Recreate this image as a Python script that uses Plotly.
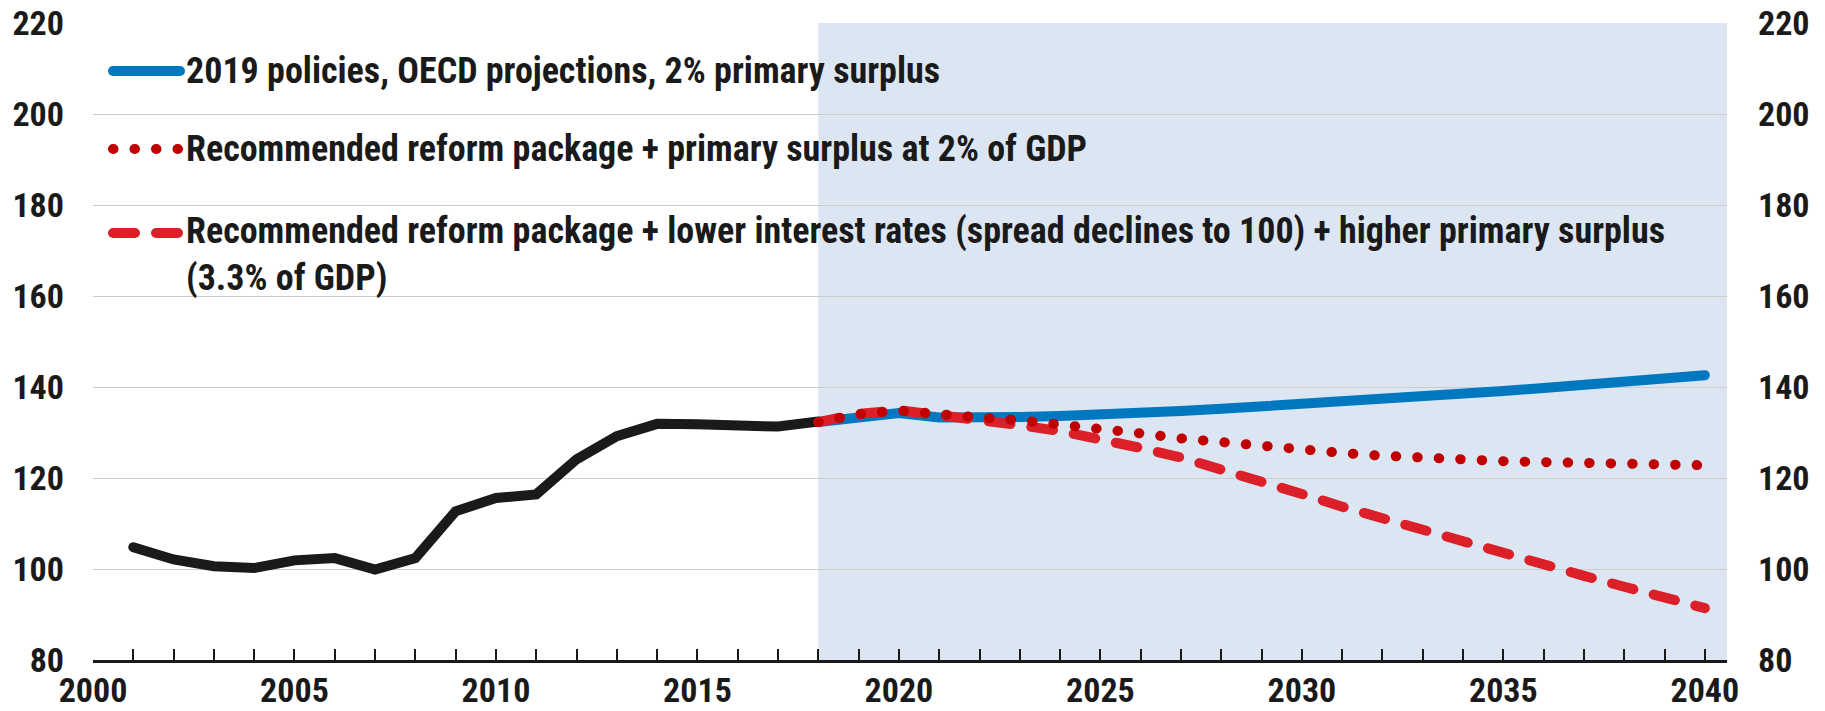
import plotly.graph_objects as go

# debt, % of GDP
hist_years = list(range(2001, 2019))
hist_debt = [104.8, 102.1, 100.6, 100.2, 101.9, 102.4, 99.9, 102.4, 112.7, 115.6,
             116.4, 124.1, 129.2, 131.9, 131.8, 131.4, 131.3, 132.4]

proj_years = list(range(2018, 2041))
baseline = [132.3, 133.2, 134.3, 133.3, 133.2, 133.4, 133.6, 133.8, 134.2, 134.7, 135.2,
            135.7, 136.3, 136.8, 137.3, 137.9, 138.5, 139.1, 139.8, 140.5, 141.2, 141.9, 142.6]
reform_2pct = [132.3, 134.0, 134.8, 133.9, 133.3, 132.7, 131.9, 130.8, 129.8, 128.7, 127.8,
               126.9, 126.1, 125.5, 124.9, 124.4, 124.0, 123.7, 123.5, 123.3, 123.1, 122.95, 122.8]
reform_low_rates = [132.3, 134.1, 134.9, 133.9, 132.8, 131.6, 130.3, 128.6, 126.6, 124.5, 122.0,
                    119.4, 116.5, 113.7, 111.1, 108.4, 105.9, 103.2, 100.8, 98.5, 96.1, 93.6, 91.4]

series_names = [
    "2019 policies, OECD projections, 2% primary surplus",
    "Recommended reform package + primary surplus at 2% of GDP",
    "Recommended reform package + lower interest rates (spread declines to 100) + higher primary surplus<br>(3.3% of GDP)",
]

x_ticks = list(range(2000, 2041))
x_ticktext = [str(y) if y % 5 == 0 else "" for y in x_ticks]
y_ticks = [80, 100, 120, 140, 160, 180, 200, 220]

colors = {"hist": "#1a1a1a", "base": "#0078c0", "dot": "#c00000", "dash": "#dc2029"}
FONT = "Liberation Sans Narrow, Arial Narrow, Roboto Condensed, sans-serif"

W, H = 1825, 711
L, R, T, B = 93, 98, 23, 51
LW = 10
dash_pat = "22px,21px"
dot_pat = "0.5px,21px"


def px(x, y):
    # pixel -> paper coords
    return (x - L) / (W - L - R), 1 - (y - T) / (H - T - B)


fig = go.Figure()
fig.add_trace(go.Scatter(x=hist_years, y=hist_debt, mode="lines", showlegend=False,
                         line=dict(color=colors["hist"], width=LW)))
fig.add_trace(go.Scatter(x=proj_years, y=baseline, mode="lines", showlegend=False,
                         line=dict(color=colors["base"], width=LW)))
fig.add_trace(go.Scatter(x=proj_years, y=reform_low_rates, mode="lines", showlegend=False,
                         line=dict(color=colors["dash"], width=LW, dash=dash_pat)))
fig.add_trace(go.Scatter(x=proj_years, y=reform_2pct, mode="lines", showlegend=False,
                         line=dict(color=colors["dot"], width=LW, dash=dot_pat)))
# invisible trace so the right axis draws
fig.add_trace(go.Scatter(x=proj_years, y=baseline, yaxis="y2", mode="lines",
                         showlegend=False, hoverinfo="skip", line=dict(width=0), opacity=0))

# projection shading
fig.add_shape(type="rect", xref="x", yref="y", x0=2018, x1=2040.6, y0=78.6, y1=221.5,
              fillcolor="#dce6f2", line_width=0, layer="below")

# hand made legend
legend_rows = [(71, colors["base"], None, 71), (149, colors["dot"], dot_pat, 149),
               (233, colors["dash"], dash_pat, 255)]
for (ly, col, dsh, ty), name in zip(legend_rows, series_names):
    x0, y0 = px(113, ly)
    x1, _ = px(180, ly)
    fig.add_shape(type="line", xref="paper", yref="paper", x0=x0, x1=x1, y0=y0, y1=y0,
                  line=dict(color=col, width=LW, dash=dsh))
    tx, tyy = px(184, ty)
    fig.add_annotation(xref="paper", yref="paper", x=tx, y=tyy, text=name, showarrow=False,
                       xanchor="left", yanchor="middle", align="left",
                       font=dict(family=FONT, size=36, color="#1a1a1a", weight="bold"))

fig.update_layout(
    width=W, height=H,
    margin=dict(l=L, r=R, t=T, b=B, autoexpand=False),
    plot_bgcolor="white", paper_bgcolor="white",
    showlegend=False,
    font=dict(family=FONT, size=34, color="#1a1a1a", weight="bold"),
    xaxis=dict(range=[2000, 2040.55], tickvals=x_ticks, ticktext=x_ticktext,
               ticks="inside", ticklen=11, tickwidth=2, tickcolor="#1a1a1a",
               showline=True, linecolor="#1a1a1a", linewidth=2.5, automargin=False,
               showgrid=False, zeroline=False, ticklabelstandoff=-2),
    yaxis=dict(range=[80, 220], tickvals=y_ticks, showgrid=True, gridcolor="#cccccc",
               gridwidth=1.3, zeroline=False, ticks="", ticklabelstandoff=28,
               automargin=False),
    yaxis2=dict(range=[80, 220], tickvals=y_ticks, overlaying="y", side="right",
                showgrid=False, zeroline=False, ticks="", ticklabelstandoff=30,
                automargin=False),
)

post = ("document.body.style.margin='0';"
        "document.querySelectorAll('path.js-line, .shapelayer path')"
        ".forEach(function(p){p.style.strokeLinecap='round';});")
fig.write_html("out.html", post_script=post, config={"displayModeBar": False})
